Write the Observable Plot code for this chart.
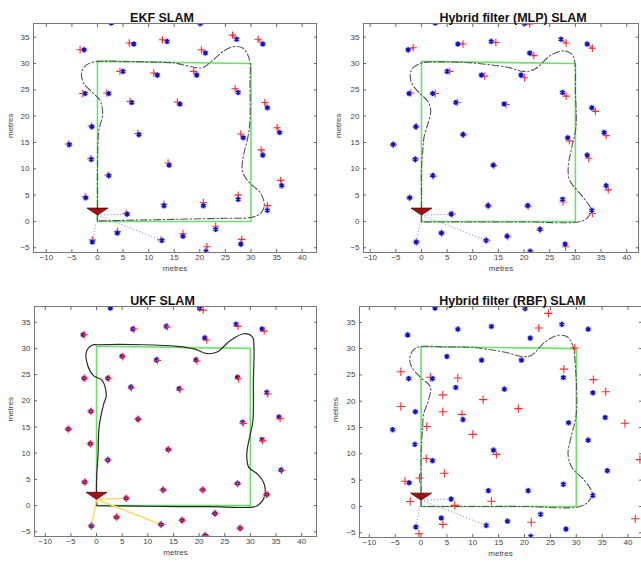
<!DOCTYPE html>
<html><head><meta charset="utf-8">
<script src="https://cdn.jsdelivr.net/npm/d3@7"></script>
<script src="https://cdn.jsdelivr.net/npm/@observablehq/plot@0.6"></script>
<style>
body{margin:0;background:#fff}
#wrap{position:relative;width:641px;height:562px;overflow:hidden;background:#fff}
.panel{position:absolute}
</style>
</head><body><div id="wrap"></div>
<script>
// True landmark positions (blue *)
const landmarks = [[2.7,37.7],[20.1,37.6],[-2.6,32.6],[7.1,33.7],[13.6,34.2],[27.2,34.6],[32.3,33.7],[21.1,32.0],[5.0,28.5],[11.7,27.8],[19.4,27.8],[-2.4,24.3],[2.2,24.3],[6.7,22.6],[16.1,22.3],[27.5,24.5],[33.2,21.6],[-5.5,14.6],[-1.1,18.0],[8.1,16.5],[28.5,15.9],[35.6,16.9],[-1.2,11.8],[2.2,8.7],[14.0,10.7],[32.3,12.6],[36.0,6.8],[-2.3,4.5],[13.0,3.0],[20.7,3.0],[27.5,4.2],[33.2,2.1],[5.8,1.4],[-1.0,-3.9],[3.9,-2.2],[12.6,-3.6],[16.7,-2.8],[23.1,-1.5],[28.0,-4.3],[21.2,-5.7]];
// Estimated landmark positions (red +)
const ekfEstimates = [[2.2,38.3],[19.6,38.2],[-3.4,32.6],[6.2,33.9],[12.7,34.5],[26.4,35.4],[31.4,34.6],[20.3,32.6],[4.4,28.5],[11.0,28.2],[18.8,28.5],[-2.9,24.3],[1.8,24.4],[6.4,22.8],[15.6,22.7],[26.9,25.2],[32.7,22.6],[-5.7,14.7],[-1.2,18.1],[7.9,16.7],[28.0,16.6],[35.1,17.8],[-1.3,11.9],[2.1,8.8],[13.8,11.1],[32.0,13.6],[35.8,7.8],[-2.4,4.7],[13.0,3.3],[20.7,3.6],[27.5,5.0],[33.2,3.0],[5.6,1.5],[-1.0,-3.5],[3.9,-1.9],[12.4,-3.5],[16.7,-2.3],[23.1,-0.9],[28.2,-3.4],[21.4,-4.8]];
const mlpEstimates = [[3.2,38.4],[21.1,37.5],[-1.6,33.0],[8.1,33.7],[14.5,34.0],[28.2,33.9],[33.3,32.9],[21.9,31.5],[5.5,28.5],[12.3,27.6],[20.1,27.3],[-2.1,24.4],[2.7,24.3],[7.0,22.6],[16.5,22.2],[28.2,23.8],[33.9,20.9],[-5.5,14.6],[-1.0,18.0],[8.2,16.5],[28.8,15.3],[36.0,16.3],[-1.2,11.8],[2.3,8.6],[14.1,10.6],[32.6,12.0],[36.4,6.0],[-2.3,4.5],[13.0,3.0],[20.8,2.9],[27.6,3.7],[33.3,1.5],[6.0,1.4],[-1.0,-3.9],[3.9,-2.2],[12.7,-3.6],[16.8,-2.9],[23.1,-1.6],[28.1,-4.8],[21.2,-5.8]];
const ukfEstimates = [[2.7,38.6],[20.8,37.3],[-2.4,32.6],[7.3,33.7],[13.8,34.1],[27.6,34.2],[32.7,33.3],[21.5,31.6],[5.1,28.4],[11.9,27.7],[19.6,27.6],[-2.3,24.3],[2.4,24.3],[6.8,22.5],[16.3,22.2],[27.7,24.2],[33.4,21.3],[-5.5,14.6],[-1.1,18.0],[8.1,16.5],[28.6,15.7],[35.8,16.6],[-1.2,11.8],[2.2,8.7],[14.0,10.7],[32.4,12.4],[36.1,6.7],[-2.3,4.5],[13.0,3.0],[20.7,3.0],[27.5,4.2],[33.2,2.1],[5.8,1.4],[-1.0,-3.9],[3.9,-2.2],[12.6,-3.6],[16.7,-2.8],[23.1,-1.5],[28.0,-4.3],[21.2,-5.7]];
const rbfEstimates = [[24.6,36.7],[22.75,33.9],[29.7,30.1],[-3.9,25.6],[1.8,24.55],[7.1,24.4],[27.6,26.1],[4.2,21.2],[12.0,20.3],[-3.9,19.0],[4.2,18.0],[7.9,17.5],[18.8,18.6],[1.1,15.2],[10.0,13.7],[14.55,9.9],[1.0,9.1],[4.5,6.3],[-3.1,4.8],[-0.3,5.4],[-2.1,0.95],[6.5,0.2],[13.6,1.0],[33.3,24.1],[35.7,21.8],[39.4,15.8],[42.3,8.9],[41.4,-2.35],[4.2,-3.4],[21.3,-3.0],[-0.4,-5.2]];
// True robot path (green) and estimated paths (black)
const truePath = [[0,0],[30,0],[30,30],[0,30.4],[0,0]];
const ekfPath = [[0,0.1],[0,5],[0,10],[0.1,15],[0.3,17.5],[1.0,20.3],[0.5,23],[-1.1,24.6],[-2.7,26.3],[-3.1,28.3],[-2.2,29.7],[0,30.4],[5,30.4],[10,30.3],[15,30.1],[18.8,29.3],[20.5,29.2],[22.4,30.5],[24.7,32.4],[26.6,33.2],[28.3,33.0],[29.3,31.8],[29.8,30.2],[29.8,26],[29.8,19.2],[29.4,16],[28.6,12.8],[28.3,9.7],[29.3,7.8],[31.9,5.3],[32.6,3.0],[31.9,1.6],[30.2,0.8],[25,0.6],[20,0.5],[15,0.4],[10,0.3],[5,0.2],[0,0.1]];
const mlpPath = [[0,-0.1],[0,5],[0,10],[0.3,14],[0.5,16],[1.8,21.1],[1.1,23],[-0.2,24.2],[-1.8,26.1],[-2.2,27.7],[-1.8,29],[-0.5,29.9],[0.5,30.2],[5,30.3],[10,30.1],[16.7,29.3],[19.9,28.5],[22.2,29],[25.1,31.5],[27.7,32.4],[29.3,31.8],[29.9,30.2],[30,25],[30.1,17.9],[29.3,14.1],[28.6,10.3],[28.9,7.8],[31.5,4.6],[33.1,2.1],[32.1,0.5],[30.5,-0.1],[20,-0.1],[10,-0.1],[0,-0.1]];
const ukfPath = [[0,0],[0,5],[0.3,9.9],[0.5,15],[1.4,19.4],[1.9,21],[1.1,23.9],[-0.6,24.8],[-1.7,26.7],[-2.0,29.3],[-0.9,30.6],[0.4,30.7],[9.2,30.7],[15.7,30.4],[19,29.9],[21.6,29],[23.5,29.3],[26.1,31.5],[28.7,32.8],[30.4,32.2],[30.7,30.2],[30.6,24],[30.5,16.2],[30,13.7],[29.3,9.9],[29.7,7.3],[31.4,6.0],[32.7,4.1],[32.7,1.6],[31.4,0],[30.4,-0.3],[22,-0.2],[15.7,-0.2],[8,-0.1],[0,0]];
const rbfPath = [[0,0],[0,5],[0,10],[0.3,15],[0.5,17.6],[1.4,20.1],[1.8,22.7],[-0.2,24.6],[-1.8,26.5],[-2.2,28],[-1.6,29.6],[-0.5,30.3],[5,30.3],[10,30.2],[16.3,29.3],[19.5,28.5],[21.3,28.7],[23.9,31.2],[26.4,32.5],[28.3,32.2],[29.3,30.6],[29.8,27],[30,17.6],[29,13.2],[28.4,10],[29.1,7.5],[31.6,4.9],[33.1,2.4],[32.2,0.8],[30.3,-0.1],[20,0],[10,0],[0,0]];
const robotPose = [0, 1.2];
const observedIds = [33, 36, 34];
const xTicks = [-10,-5,0,5,10,15,20,25,30,35,40];
const yTicks = [-5,0,5,10,15,20,25,30,35];
const titles = ["EKF SLAM","Hybrid filter (MLP) SLAM","UKF SLAM","Hybrid filter (RBF) SLAM"];

const robotSymbol = {draw(ctx){ctx.moveTo(-10.5,-7);ctx.lineTo(10.5,-7);ctx.lineTo(0,0);ctx.closePath();}};
const X = d => d[0], Y = d => d[1];
const FONT = "'Liberation Sans', Arial, sans-serif";

function panel(cfg){
  const observed = observedIds.map(i => landmarks[i-1]);
  const marks = [
    Plot.line(truePath, {x: X, y: Y, stroke: "#6ee06e", strokeWidth: 1.6, clip: true}),
    Plot.line(cfg.path, {x: X, y: Y, curve: "catmull-rom", stroke: cfg.solid ? "#2a2a2a" : "#555",
      strokeWidth: cfg.solid ? 1.2 : 1.1, strokeDasharray: cfg.solid ? null : "7,2.5,1.5,2.5", clip: true}),
    Plot.link(observed, {x1: () => robotPose[0], y1: () => robotPose[1], x2: X, y2: Y,
      stroke: cfg.yellow ? "#f4e06a" : "#8a8aff", strokeWidth: cfg.yellow ? 1.6 : 1,
      strokeDasharray: cfg.yellow ? null : "1.2,2", clip: true}),
  ];
  if (cfg.trails) marks.push(Plot.link(cfg.est, {x1: X, y1: Y, x2: (d,i) => landmarks[i][0], y2: (d,i) => landmarks[i][1],
      stroke: "#ff4040", strokeWidth: 2, strokeOpacity: 0.75, clip: true}));
  const blue = [
    Plot.dot(landmarks, {x: X, y: Y, r: 3.4, fill: "#b9b9f2", fillOpacity: 0.55, clip: true}),
    Plot.dot(landmarks, {x: X, y: Y, symbol: "asterisk", r: 2.4, stroke: "#1010c8", strokeWidth: 1.6, clip: true})
  ];
  const red = Plot.dot(cfg.est, {x: X, y: Y, symbol: "plus", r: cfg.trails ? 2.5 : 2.8, stroke: "#ff2a2a", strokeWidth: 1.1, clip: true});
  if (cfg.redOnTop) marks.push(...blue, red); else marks.push(red, ...blue);
  marks.push(
    Plot.dot([robotPose], {x: X, y: Y, symbol: robotSymbol, fill: "#a01212", stroke: "#5a0505", strokeWidth: 0.8}),
    Plot.frame({stroke: "#777", strokeWidth: 1}),
    Plot.axisX(xTicks, {anchor: "bottom", tickSize: -3, tickPadding: 5, stroke: "#666", color: "#444"}),
    Plot.axisX(xTicks, {anchor: "top", tickSize: -3, tickFormat: () => "", stroke: "#666"}),
    Plot.axisY(yTicks, {anchor: "left", tickSize: -3, tickPadding: 7, stroke: "#666", color: "#444"}),
    Plot.axisY(yTicks, {anchor: "right", tickSize: -3, tickFormat: () => "", stroke: "#666"}),
    Plot.text(["metres"], {frameAnchor: "bottom", dy: cfg.xlabDy, fontSize: 8, fill: "#444"}),
    Plot.text(["metres"], {frameAnchor: "left", dx: cfg.ylabDx, rotate: -90, fontSize: 8, fill: "#444"}),
    Plot.text([cfg.title], {frameAnchor: "top", dy: -10, dx: cfg.titleDx, fontSize: 12.5, fontWeight: "bold", fill: "#111"})
  );
  const svg = Plot.plot({
    width: cfg.width, height: cfg.height,
    marginLeft: cfg.ml, marginRight: cfg.mr, marginTop: cfg.mt, marginBottom: cfg.mb,
    x: {domain: cfg.xd, label: null}, y: {domain: cfg.yd, label: null},
    style: {fontSize: "8px", fontFamily: FONT, background: "transparent", overflow: "visible"},
    marks
  });
  const div = document.createElement("div");
  div.className = "panel";
  div.style.left = cfg.left + "px"; div.style.top = cfg.top + "px";
  div.appendChild(svg);
  document.getElementById("wrap").appendChild(div);
}

panel({title: titles[0], est: ekfEstimates, path: ekfPath, trails: true, left: 0, top: 0, width: 320, height: 280,
  ml: 33, mr: 4, mt: 23, mb: 28, xd: [-12.5, 42.8], yd: [-5.9, 37.6], ylabDx: -23, xlabDy: 18, titleDx: -13});
panel({title: titles[1], est: mlpEstimates, path: mlpPath, trails: true, left: 320, top: 0, width: 321, height: 280,
  ml: 43, mr: 3, mt: 23, mb: 28, xd: [-11.3, 42.3], yd: [-5.9, 37.6], ylabDx: -25, xlabDy: 18, titleDx: 12});
panel({title: titles[2], est: ukfEstimates, path: ukfPath, trails: true, redOnTop: true, solid: true, yellow: true,
  left: 0, top: 280, width: 320, height: 282, ml: 34, mr: 4, mt: 26, mb: 26, xd: [-12.1, 42.9], yd: [-5.9, 38.0], ylabDx: -24, xlabDy: 18, titleDx: -13});
panel({title: titles[3], est: rbfEstimates, path: rbfPath, trails: false, left: 320, top: 280, width: 321, height: 282,
  ml: 39, mr: 0, mt: 26, mb: 25, xd: [-11.9, 42.6], yd: [-5.9, 38.0], ylabDx: -24, xlabDy: 18, titleDx: 12});
</script></body></html>
